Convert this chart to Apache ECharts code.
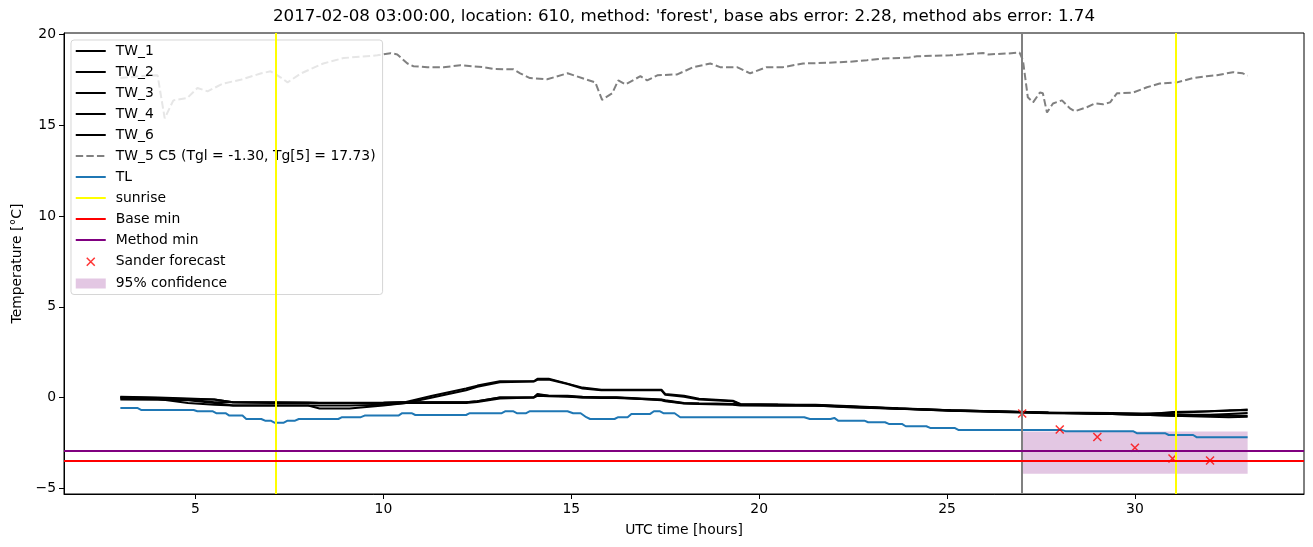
<!DOCTYPE html>
<html>
<head>
<meta charset="utf-8">
<script src="https://cdn.jsdelivr.net/npm/echarts@6/dist/echarts.min.js"></script>
<style>html,body{margin:0;padding:0;background:#fff;}#c{width:1313px;height:547px;}</style>
</head>
<body>
<div id="c"></div>
<script>
// ---------- data ----------
const xTicks = [5, 10, 15, 20, 25, 30];
const yTicks = [-5, 0, 5, 10, 15, 20];

const twX = [3, 4, 4.8, 5.5, 6, 7, 8, 8.3, 9.1, 10, 10.6, 11.3, 12.2, 12.5, 13.1, 14.0, 14.1, 14.4, 14.9, 15.3, 15.8, 16.2, 17.4, 17.5, 18, 18.4, 19.3, 19.5, 20.5, 21.5, 22.5, 23.7, 25.1, 26.9, 27.7, 28.5, 29.4, 30.2, 31, 32, 32.5, 33];
const tw1 = [0.02, -0.02, -0.1, -0.25, -0.26, -0.27, -0.28, -0.3, -0.3, -0.3, -0.24, 0.1, 0.5, 0.66, 0.9, 0.9, 1.04, 1.04, 0.77, 0.55, 0.43, 0.43, 0.43, 0.2, 0.1, -0.06, -0.17, -0.35, -0.38, -0.4, -0.48, -0.59, -0.7, -0.8, -0.84, -0.85, -0.88, -0.9, -0.95, -0.95, -0.9, -0.85];
const tw2 = [-0.05, -0.08, -0.3, -0.4, -0.44, -0.44, -0.44, -0.6, -0.6, -0.44, -0.3, 0.0, 0.4, 0.6, 0.85, 0.88, 0.98, 1.0, 0.75, 0.5, 0.4, 0.4, 0.4, 0.15, 0.05, -0.1, -0.2, -0.38, -0.4, -0.42, -0.5, -0.6, -0.72, -0.82, -0.86, -0.88, -0.9, -0.95, -1.0, -1.05, -1.08, -1.05];
const tw3 = [0.0, -0.05, -0.08, -0.1, -0.26, -0.26, -0.27, -0.28, -0.28, -0.27, -0.26, -0.26, -0.26, -0.2, 0.0, 0.02, 0.15, 0.1, 0.1, 0.05, 0.02, 0.02, -0.1, -0.15, -0.3, -0.32, -0.35, -0.38, -0.4, -0.42, -0.5, -0.6, -0.7, -0.78, -0.82, -0.83, -0.85, -0.88, -0.85, -0.75, -0.72, -0.66];
const tw4 = [-0.1, -0.12, -0.15, -0.3, -0.44, -0.44, -0.44, -0.44, -0.44, -0.4, -0.3, -0.3, -0.3, -0.25, -0.05, 0.0, 0.2, 0.1, 0.08, 0.0, 0.0, 0.0, -0.15, -0.2, -0.32, -0.35, -0.4, -0.44, -0.45, -0.45, -0.52, -0.62, -0.72, -0.8, -0.84, -0.86, -0.9, -0.95, -1.0, -1.0, -0.98, -1.0];
const tw6 = [0.05, 0.0, -0.05, -0.1, -0.26, -0.3, -0.3, -0.3, -0.3, -0.3, -0.27, -0.26, -0.26, -0.2, 0.0, 0.0, 0.1, 0.08, 0.05, 0.0, -0.02, -0.02, -0.12, -0.17, -0.31, -0.33, -0.36, -0.4, -0.42, -0.44, -0.55, -0.62, -0.7, -0.8, -0.83, -0.86, -0.9, -0.95, -0.8, -0.75, -0.7, -0.7];

const tw5X = [3.0, 3.5, 3.99, 4.18, 4.41, 4.78, 5.05, 5.32, 5.74, 6.2, 6.73, 7.0, 7.26, 7.45, 7.8, 8.4, 8.94, 9.84, 10.19, 10.37, 10.64, 10.8, 11.17, 11.6, 12.05, 12.66, 12.93, 13.46, 13.64, 13.9, 14.36, 14.9, 15.3, 15.64, 15.82, 16.09, 16.25, 16.44, 16.84, 17.02, 17.29, 17.82, 18.24, 18.7, 18.96, 19.41, 19.76, 20.2, 20.64, 21.17, 21.8, 22.42, 22.87, 23.3, 24.0, 24.2, 25.08, 25.96, 26.1, 26.6, 26.93, 27.02, 27.15, 27.29, 27.47, 27.55, 27.66, 27.82, 28.06, 28.27, 28.4, 28.72, 28.94, 29.15, 29.34, 29.52, 29.95, 30.32, 30.66, 31.12, 31.54, 31.91, 32.18, 32.45, 32.61, 32.87, 33.0];
const tw5 = [17.6, 17.7, 17.75, 15.38, 16.37, 16.5, 17.05, 16.87, 17.3, 17.5, 17.85, 17.97, 17.64, 17.36, 17.85, 18.4, 18.7, 18.85, 18.97, 18.9, 18.4, 18.25, 18.2, 18.2, 18.3, 18.2, 18.1, 18.08, 17.86, 17.6, 17.53, 17.86, 17.59, 17.36, 16.4, 16.76, 17.47, 17.25, 17.7, 17.47, 17.75, 17.8, 18.19, 18.4, 18.2, 18.2, 17.86, 18.2, 18.2, 18.4, 18.44, 18.5, 18.58, 18.67, 18.73, 18.8, 18.85, 18.98, 18.9, 18.95, 19.0, 18.58, 16.54, 16.26, 16.8, 16.76, 15.7, 16.2, 16.37, 15.93, 15.77, 15.99, 16.2, 16.15, 16.26, 16.76, 16.8, 17.09, 17.3, 17.36, 17.59, 17.7, 17.75, 17.86, 17.92, 17.86, 17.73];

const tlX = [3.0, 3.45, 3.55, 4.95, 5.05, 5.45, 5.55, 5.8, 5.9, 6.25, 6.35, 6.75, 6.85, 7.0, 7.1, 7.35, 7.45, 7.65, 7.75, 8.8, 8.9, 9.4, 9.5, 10.4, 10.5, 10.75, 10.85, 12.2, 12.3, 13.15, 13.25, 13.45, 13.55, 13.8, 13.9, 14.9, 15.05, 15.25, 15.4, 15.5, 16.15, 16.25, 16.5, 16.6, 17.1, 17.2, 17.35, 17.45, 17.75, 17.9, 21.2, 21.25, 21.35, 21.9, 22.0, 22.1, 22.8, 22.9, 23.35, 23.45, 23.8, 23.9, 24.45, 24.55, 25.2, 25.3, 28.05, 28.15, 29.95, 30.05, 30.8, 30.9, 31.55, 31.65, 33.0];
const tl = [-0.57, -0.57, -0.68, -0.68, -0.75, -0.75, -0.86, -0.86, -0.99, -0.99, -1.18, -1.18, -1.27, -1.27, -1.38, -1.38, -1.27, -1.27, -1.18, -1.18, -1.08, -1.08, -0.99, -0.99, -0.86, -0.86, -0.96, -0.96, -0.86, -0.86, -0.75, -0.75, -0.86, -0.86, -0.75, -0.75, -0.86, -0.86, -1.08, -1.18, -1.18, -1.08, -1.08, -0.9, -0.9, -0.75, -0.75, -0.86, -0.86, -1.08, -1.08, -0.99, -1.18, -1.18, -1.12, -1.27, -1.27, -1.36, -1.36, -1.45, -1.45, -1.58, -1.58, -1.67, -1.67, -1.78, -1.78, -1.85, -1.85, -1.96, -1.96, -2.06, -2.06, -2.19, -2.19];

const sunriseX = [7.13, 31.09];
const runX = 27;
const baseMin = -3.47;
const methodMin = -2.92;
const sanderX = [27, 28, 29, 30, 31, 32];
const sanderY = [-0.88, -1.76, -2.17, -2.76, -3.36, -3.47];
const confX = [27, 33];
const confLow = -4.19;
const confHigh = -1.87;

const titleText = "2017-02-08 03:00:00, location: 610, method: 'forest', base abs error: 2.28, method abs error: 1.74";
const tw5Name = 'TW_5 C5 (Tgl = -1.30, Tg[5] = 17.73)';

// ---------- chart ----------
const zip = (xs, ys) => xs.map((x, i) => [x, ys[i]]);
const FONT = 'DejaVu Sans';
const chart = echarts.init(document.getElementById('c'), null, {renderer: 'canvas'});

function twSeries(name, ys) {
  return {
    name, type: 'line', data: zip(twX, ys), showSymbol: false, symbol: 'none',
    lineStyle: {color: '#000', width: 2}, itemStyle: {color: '#000'},
    z: 3, silent: true, animation: false
  };
}
const mlBase = {symbol: 'none', silent: true, label: {show: false}, animation: false};

const xPath = 'path://M0,0L10,10M10,0L0,10';
const xLegendPath = 'path://M0,0M30,14M11,3L19,11M19,3L11,11';
const rectLegendPath = 'path://M0,0M30,14M0,2L30,2L30,12L0,12Z';
const lineLegendPath = 'path://M0,0M30,14M0,6L30,6L30,8L0,8Z';
const dashLegendPath = 'path://M0,0M30,14M0,6L7.4,6L7.4,8L0,8ZM10.6,6L18,6L18,8L10.6,8ZM21.2,6L28.6,6L28.6,8L21.2,8Z';

const lineItem = (name, color) => ({name, icon: lineLegendPath, itemStyle: {color, borderWidth: 0}});

const option = {
  backgroundColor: '#fff',
  animation: false,
  title: {
    text: titleText, left: 684, top: 8, textAlign: 'center', padding: 0,
    textStyle: {fontFamily: FONT, fontSize: 16.7, fontWeight: 'normal', color: '#000'}
  },
  grid: {left: 64, right: 9, top: 33, bottom: 53, show: true, borderColor: '#000', borderWidth: 1, backgroundColor: 'transparent'},
  xAxis: {
    type: 'value', min: 1.5, max: 34.5,
    name: 'UTC time [hours]', nameLocation: 'middle', nameGap: 29,
    nameTextStyle: {fontFamily: FONT, fontSize: 13.9, color: '#000'},
    axisLine: {show: true, onZero: false, lineStyle: {color: '#000', width: 1}},
    axisTick: {show: true, length: 5, lineStyle: {color: '#000'}, customValues: xTicks},
    axisLabel: {fontFamily: FONT, fontSize: 13.9, color: '#000', margin: 8, customValues: xTicks},
    splitLine: {show: false}
  },
  yAxis: {
    type: 'value', min: -5.31, max: 20.08,
    name: 'Temperature [°C]', nameLocation: 'middle', nameGap: 38, nameRotate: 90,
    nameTextStyle: {fontFamily: FONT, fontSize: 13.9, color: '#000'},
    axisLine: {show: true, onZero: false, lineStyle: {color: '#000', width: 1}},
    axisTick: {show: true, length: 5, lineStyle: {color: '#000'}, customValues: yTicks},
    axisLabel: {fontFamily: FONT, fontSize: 13.9, color: '#000', margin: 8, customValues: yTicks,
      formatter: v => (v < 0 ? '\u2212' + Math.abs(v) : String(v))},
    splitLine: {show: false}
  },
  legend: {
    orient: 'vertical', left: 71, top: 40,
    padding: [4, 7, 4, 4], itemGap: 7, itemWidth: 30, itemHeight: 14,
    backgroundColor: 'rgba(255,255,255,0.8)', borderColor: 'rgba(204,204,204,0.8)', borderWidth: 1, borderRadius: 3,
    textStyle: {fontFamily: FONT, fontSize: 13.9, color: '#000', padding: [0, 0, 0, 5]},
    selectedMode: false,
    data: [
      lineItem('TW_1', '#000'), lineItem('TW_2', '#000'), lineItem('TW_3', '#000'),
      lineItem('TW_4', '#000'), lineItem('TW_6', '#000'),
      {name: tw5Name, icon: dashLegendPath, itemStyle: {color: '#808080', borderWidth: 0}},
      lineItem('TL', '#1f77b4'), lineItem('sunrise', '#ffff00'),
      lineItem('Base min', '#ff0000'), lineItem('Method min', '#800080'),
      {name: 'Sander forecast', icon: xLegendPath, itemStyle: {color: 'transparent', borderColor: '#ff0000', borderWidth: 1.5}},
      {name: '95% confidence', icon: rectLegendPath, itemStyle: {color: 'rgba(128,0,128,0.22)', borderWidth: 0}}
    ]
  },
  series: [
    {
      name: '95% confidence', type: 'line', data: [], symbol: 'none',
      itemStyle: {color: 'rgba(128,0,128,0.22)'}, lineStyle: {width: 0},
      z: 1, silent: true,
      markArea: {silent: true, itemStyle: {color: 'rgba(128,0,128,0.22)'}, label: {show: false},
        data: [[{coord: [confX[0], confLow]}, {coord: [confX[1], confHigh]}]]}
    },
    twSeries('TW_1', tw1),
    twSeries('TW_2', tw2),
    twSeries('TW_3', tw3),
    twSeries('TW_4', tw4),
    twSeries('TW_6', tw6),
    {
      name: tw5Name, type: 'line', data: zip(tw5X, tw5), showSymbol: false, symbol: 'none',
      lineStyle: {color: '#808080', width: 2, type: [7.4, 3.2]}, itemStyle: {color: '#808080'}, z: 3, silent: true
    },
    {
      name: 'TL', type: 'line', data: zip(tlX, tl), showSymbol: false, symbol: 'none',
      lineStyle: {color: '#1f77b4', width: 2}, itemStyle: {color: '#1f77b4'}, z: 3, silent: true
    },
    {
      name: 'sunrise', type: 'line', data: [], symbol: 'none',
      lineStyle: {color: '#ffff00', width: 2}, itemStyle: {color: '#ffff00'}, z: 3,
      markLine: Object.assign({}, mlBase, {lineStyle: {color: '#ffff00', width: 2, type: 'solid'},
        data: sunriseX.map(x => ({xAxis: x}))})
    },
    {
      name: 'run', type: 'line', data: [], symbol: 'none',
      lineStyle: {color: '#808080', width: 2}, itemStyle: {color: '#808080'}, z: 3,
      markLine: Object.assign({}, mlBase, {lineStyle: {color: '#808080', width: 2, type: 'solid'},
        data: [{xAxis: runX}]})
    },
    {
      name: 'Base min', type: 'line', data: [], symbol: 'none',
      lineStyle: {color: '#ff0000', width: 2}, itemStyle: {color: '#ff0000'}, z: 3,
      markLine: Object.assign({}, mlBase, {lineStyle: {color: '#ff0000', width: 2, type: 'solid'},
        data: [{yAxis: baseMin}]})
    },
    {
      name: 'Method min', type: 'line', data: [], symbol: 'none',
      lineStyle: {color: '#800080', width: 2}, itemStyle: {color: '#800080'}, z: 3,
      markLine: Object.assign({}, mlBase, {lineStyle: {color: '#800080', width: 2, type: 'solid'},
        data: [{yAxis: methodMin}]})
    },
    {
      name: 'Sander forecast', type: 'scatter', data: zip(sanderX, sanderY),
      symbol: xPath, symbolSize: 8,
      itemStyle: {color: 'transparent', borderColor: '#ff0000', borderWidth: 1.5}, z: 4, silent: true
    }
  ]
};
chart.setOption(option);
</script>
</body>
</html>
